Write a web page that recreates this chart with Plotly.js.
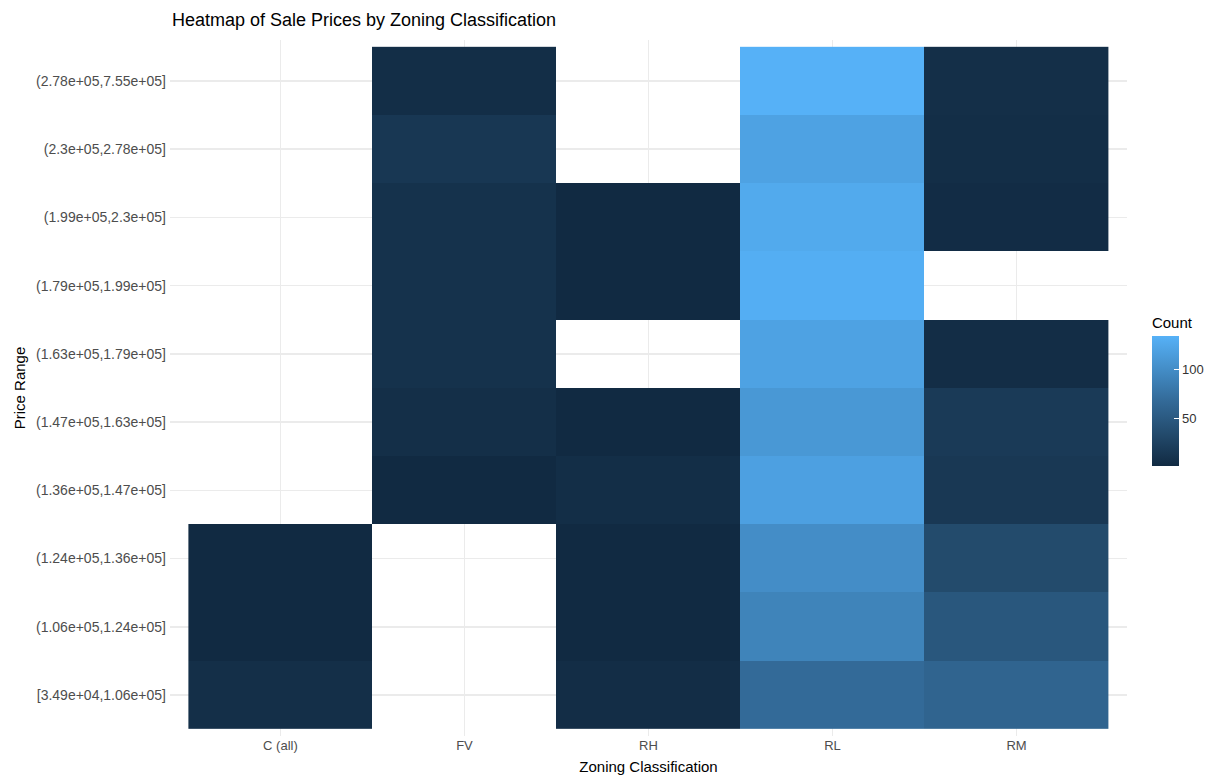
<!DOCTYPE html>
<html>
<head>
<meta charset="utf-8">
<script src="https://cdn.plot.ly/plotly-3.0.1.min.js"></script>
<style>html,body{margin:0;padding:0;background:#fff;}#chart{width:1211px;height:776px;}</style>
</head>
<body>
<div id="chart"></div>
<script>
// Zoning categories (x axis)
const zones = ["C (all)", "FV", "RH", "RL", "RM"];
// Price-range bins (y axis, bottom to top)
const priceRanges = [
  "[3.49e+04,1.06e+05]",
  "(1.06e+05,1.24e+05]",
  "(1.24e+05,1.36e+05]",
  "(1.36e+05,1.47e+05]",
  "(1.47e+05,1.63e+05]",
  "(1.63e+05,1.79e+05]",
  "(1.79e+05,1.99e+05]",
  "(1.99e+05,2.3e+05]",
  "(2.3e+05,2.78e+05]",
  "(2.78e+05,7.55e+05]"
];
// Counts per zoning, in the same order as priceRanges (null = no sales)
const countC  = [6, 1, 1, null, null, null, null, null, null, null];
const countFV = [null, null, null, 1, 6, 9, 9, 9, 14, 5];
const countRH = [4, 1, 1, 5, 1, null, 1, 1, null, null];
const countRL = [68, 92, 101, 119, 111, 121, 132, 128, 121, 135];
const countRM = [61, 47, 34, 15, 17, 4, null, 3, 5, 6];
const colorbarTicks = [50, 100];

const columns = [countC, countFV, countRH, countRL, countRM];
const z = priceRanges.map((_, i) => columns.map(col => col[i]));

const FONT = "Liberation Sans, Arial, sans-serif";

const trace = {
  type: "heatmap",
  x: zones,
  y: priceRanges,
  z: z,
  zmin: 1,
  zmax: 135,
  colorscale: [
    [0, "#112A42"], [0.25, "#234B6D"], [0.5, "#336A98"], [0.75, "#448EC8"], [1, "#56B1F7"]
  ],
  hoverongaps: false,
  colorbar: {
    title: {text: "Count", side: "top", font: {family: FONT, size: 15, color: "#000"}},
    thickness: 27,
    len: 152, lenmode: "pixels",
    x: 1.026, xanchor: "left",
    y: 0.388, yanchor: "bottom",
    xpad: 0, ypad: 0,
    outlinewidth: 0,
    tickvals: colorbarTicks,
    ticks: "inside", ticklen: 5, tickcolor: "#ffffff", tickwidth: 1,
    tickfont: {family: FONT, size: 13, color: "#333"}
  }
};

const layout = {
  width: 1211, height: 776,
  margin: {l: 170, r: 84, t: 40, b: 40, autoexpand: false},
  paper_bgcolor: "#fff", plot_bgcolor: "#fff",
  font: {family: FONT, color: "#4D4D4D"},
  title: {
    text: "Heatmap of Sale Prices by Zoning Classification",
    xref: "container", x: 0.142, xanchor: "left",
    yref: "container", y: 0.974, yanchor: "middle",
    font: {size: 18, color: "#000", family: FONT}
  },
  xaxis: {
    type: "category",
    range: [-0.6, 4.6],
    showgrid: true, gridcolor: "#EBEBEB", gridwidth: 1.4,
    zeroline: false, showline: false, ticks: "",
    tickfont: {size: 13, color: "#4D4D4D"},
    title: {text: "Zoning Classification", font: {size: 15, color: "#000"}, standoff: 9}
  },
  yaxis: {
    type: "category",
    range: [-0.6, 9.6],
    showgrid: true, gridcolor: "#EBEBEB", gridwidth: 1.4,
    zeroline: false, showline: false, ticks: "",
    ticklabelstandoff: 3,
    tickfont: {size: 14, color: "#4D4D4D"},
    title: {text: "Price Range", font: {size: 15, color: "#000"}, standoff: 6}
  }
};

Plotly.newPlot("chart", [trace], layout, {displayModeBar: false, staticPlot: true});
</script>
</body>
</html>
